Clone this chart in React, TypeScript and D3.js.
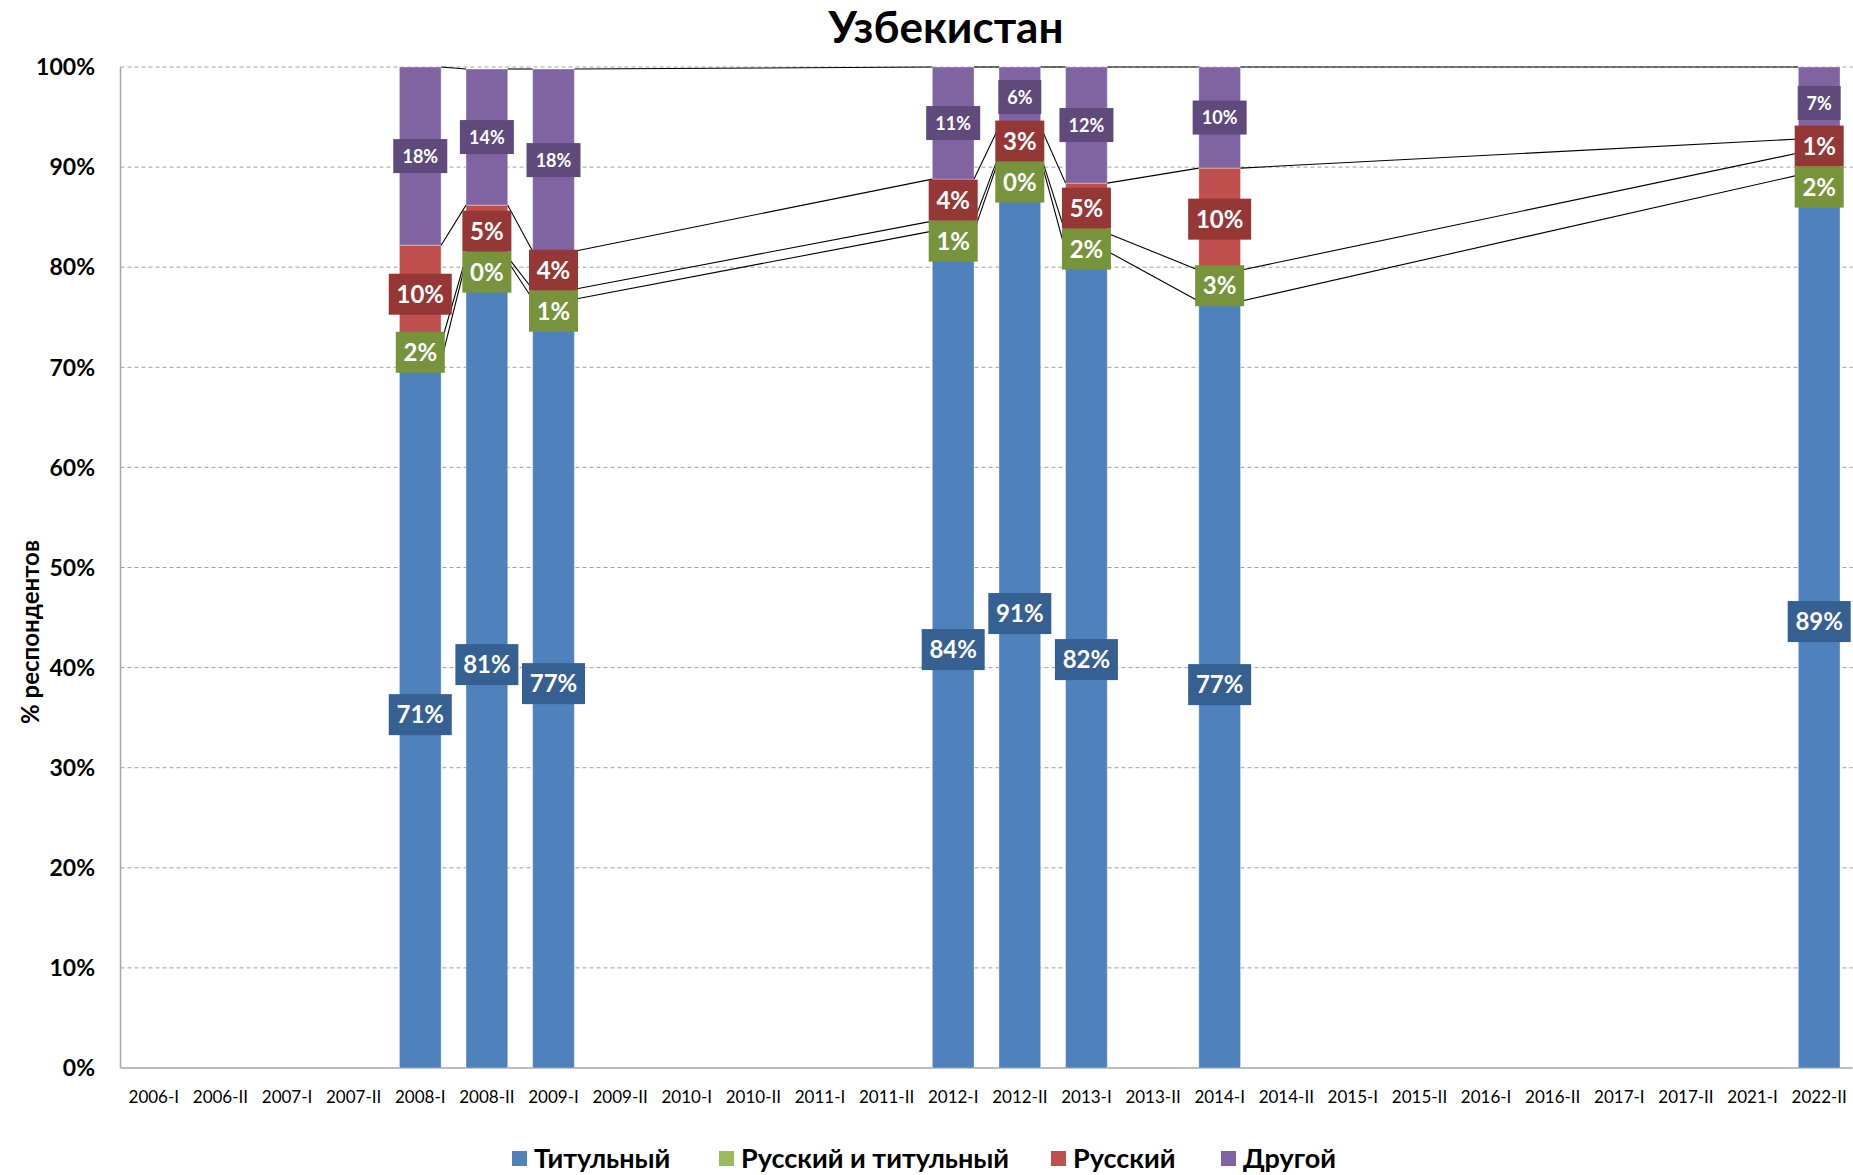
import React from 'react';
import * as d3 from 'd3';

const categories = ['2006-I','2006-II','2007-I','2007-II','2008-I','2008-II','2009-I','2009-II','2010-I','2010-II','2011-I','2011-II','2012-I','2012-II','2013-I','2013-II','2014-I','2014-II','2015-I','2015-II','2016-I','2016-II','2017-I','2017-II','2021-I','2022-II'];

const N = null;
const titular: (number | null)[] = [N,N,N,N,70.6,80.6,76.8,N,N,N,N,N,83.6,90.8,81.6,N,76.6,N,N,N,N,N,N,N,N,89.2];
const russianAndTitular: (number | null)[] = [N,N,N,N,1.8,0.4,1.0,N,N,N,N,N,1.0,0.4,1.8,N,3.1,N,N,N,N,N,N,N,N,2.2];
const russian: (number | null)[] = [N,N,N,N,9.8,5.2,3.8,N,N,N,N,N,4.2,2.8,5.0,N,10.2,N,N,N,N,N,N,N,N,1.4];
const other: (number | null)[] = [N,N,N,N,17.8,13.6,18.2,N,N,N,N,N,11.2,6.0,11.6,N,10.1,N,N,N,N,N,N,N,N,7.2];

const seriesNames = ['Титульный', 'Русский и титульный', 'Русский', 'Другой'];
const yTicks = [0, 10, 20, 30, 40, 50, 60, 70, 80, 90, 100];

const barColors = ['#4F81BD', '#9BBB59', '#C0504D', '#8064A2'];
const labelColors = ['#376092', '#77933C', '#953735', '#604A7B'];

const FONT = "Lato, 'Open Sans', 'DejaVu Sans', sans-serif";

const W = 1853;
const H = 1175;
const plotLeft = 120.5;
const plotRight = 1852.5;
const plotTop = 67;
const plotBottom = 1068;

export default function App() {
  const x = d3.scaleBand<string>().domain(categories).range([plotLeft, plotRight]).paddingInner(0.374).paddingOuter(0.187);
  const y = d3.scaleLinear().domain([0, 100]).range([plotBottom, plotTop]);
  const bw = x.bandwidth();
  const series = [titular, russianAndTitular, russian, other];

  const bars: { i: number; cat: string; segs: { s: number; v: number; y0: number; y1: number }[] }[] = [];
  categories.forEach((cat, i) => {
    if (titular[i] == null) return;
    let cum = 0;
    const segs = series.map((arr, s) => {
      const v = arr[i] as number;
      const y0 = cum;
      cum += v;
      return { s, v, y0, y1: cum };
    });
    bars.push({ i, cat, segs });
  });

  // label layout with simple collision avoidance (top-down)
  const labelH = [41, 41, 41, 34];
  const labelWBig = [49, 63];
  const labelWSmall = [43, 54];
  const labels: { cx: number; cy: number; w: number; h: number; s: number; text: string }[] = [];
  bars.forEach((b) => {
    const cx = (x(b.cat) as number) + bw / 2;
    let prevBottom = -Infinity;
    for (let s = 3; s >= 0; s--) {
      const seg = b.segs[s];
      const h = labelH[s];
      let cy = y((seg.y0 + seg.y1) / 2);
      if (cy - h / 2 < prevBottom) cy = prevBottom + h / 2;
      prevBottom = cy + h / 2;
      const text = Math.round(seg.v) + '%';
      const w = s === 3 ? labelWSmall[text.length === 2 ? 0 : 1] : labelWBig[text.length === 2 ? 0 : 1];
      labels.push({ cx, cy, w, h, s, text });
    }
  });

  const lines: { x1: number; y1: number; x2: number; y2: number }[] = [];
  for (let k = 0; k < bars.length - 1; k++) {
    const a = bars[k];
    const b = bars[k + 1];
    for (let s = 0; s < 4; s++) {
      lines.push({
        x1: (x(a.cat) as number) + bw,
        y1: y(a.segs[s].y1),
        x2: x(b.cat) as number,
        y2: y(b.segs[s].y1),
      });
    }
  }

  const legendX = [512, 719, 1051, 1221];

  return (
    <svg width={W} height={H} style={{ position: 'absolute', left: 0, top: 0, background: '#fff' }} fontFamily={FONT}>
      <rect x={0} y={0} width={W} height={H} fill="#fff" />
      <text x={946} y={43} textAnchor="middle" fontSize={44} fontWeight="bold" fill="#000">Узбекистан</text>

      {yTicks.map((t) => (
        <g key={t}>
          {t > 0 && (
            <line x1={plotLeft} x2={plotRight} y1={y(t)} y2={y(t)} stroke="#A0A0A0" strokeWidth={1} strokeDasharray="4,3" />
          )}
          <text x={95} y={y(t)} dy="0.36em" textAnchor="end" fontSize={23} fontWeight="bold" fill="#000">{t}%</text>
        </g>
      ))}
      <line x1={plotLeft} x2={plotLeft} y1={plotTop} y2={plotBottom} stroke="#A6A6A6" strokeWidth={1.5} />
      <line x1={plotLeft} x2={plotRight} y1={plotBottom} y2={plotBottom} stroke="#A6A6A6" strokeWidth={1.5} />

      <text transform={`translate(31,632) rotate(-90)`} textAnchor="middle" dy="0.35em" fontSize={24} fontWeight="bold" fill="#000">% респондентов</text>

      {bars.map((b) =>
        b.segs.map((seg) => (
          <rect key={b.cat + seg.s} x={x(b.cat)} y={y(seg.y1)} width={bw} height={Math.max(0, y(seg.y0) - y(seg.y1))} fill={barColors[seg.s]} stroke="rgba(255,255,255,0.35)" strokeWidth={1} />
        ))
      )}

      {lines.map((l, k) => (
        <line key={k} x1={l.x1} y1={l.y1} x2={l.x2} y2={l.y2} stroke="#000" strokeWidth={1.1} />
      ))}

      {labels.map((l, k) => (
        <g key={k}>
          <rect x={l.cx - l.w / 2} y={l.cy - l.h / 2} width={l.w} height={l.h} fill={labelColors[l.s]} />
          <text x={l.cx} y={l.cy} dy="0.36em" textAnchor="middle" fill="#fff" fontWeight="bold" fontSize={l.s === 3 ? 18 : 24}>{l.text}</text>
        </g>
      ))}

      {categories.map((c) => (
        <text key={c} x={(x(c) as number) + bw / 2} y={1097} dy="0.36em" textAnchor="middle" fontSize={17} fill="#000">{c}</text>
      ))}

      {seriesNames.map((n, k) => (
        <g key={n}>
          <rect x={legendX[k]} y={1151} width={15} height={15} fill={barColors[k]} />
          <text x={legendX[k] + 22} y={1158.5} dy="0.36em" fontSize={27} fontWeight="bold" fill="#000">{n}</text>
        </g>
      ))}
    </svg>
  );
}
